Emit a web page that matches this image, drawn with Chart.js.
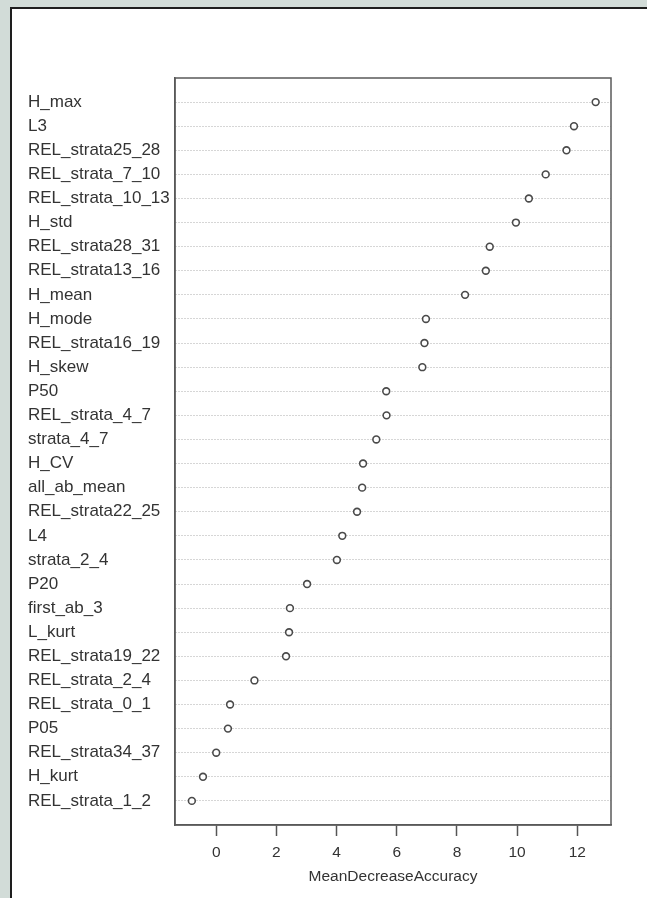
<!DOCTYPE html>
<html>
<head>
<meta charset="utf-8">
<script src="https://cdn.jsdelivr.net/npm/chart.js@4/dist/chart.umd.min.js"></script>
<style>
  html, body { margin: 0; padding: 0; background: #d2dcd8; }
  #wrap { position: absolute; left: 0; top: 0; width: 647px; height: 898px; }
</style>
</head>
<body>
<div id="wrap"><canvas id="c" width="647" height="898"></canvas></div>
<script>
// Variable importance, ordered from most to least important
const variables = [
  'H_max', 'L3', 'REL_strata25_28', 'REL_strata_7_10', 'REL_strata_10_13',
  'H_std', 'REL_strata28_31', 'REL_strata13_16', 'H_mean', 'H_mode',
  'REL_strata16_19', 'H_skew', 'P50', 'REL_strata_4_7', 'strata_4_7',
  'H_CV', 'all_ab_mean', 'REL_strata22_25', 'L4', 'strata_2_4',
  'P20', 'first_ab_3', 'L_kurt', 'REL_strata19_22', 'REL_strata_2_4',
  'REL_strata_0_1', 'P05', 'REL_strata34_37', 'H_kurt', 'REL_strata_1_2'
];
const meanDecreaseAccuracy = [
  12.61, 11.89, 11.64, 10.95, 10.39,
  9.96, 9.09, 8.96, 8.27, 6.97,
  6.92, 6.85, 5.65, 5.66, 5.32,
  4.88, 4.85, 4.68, 4.19, 4.01,
  3.02, 2.45, 2.42, 2.32, 1.27,
  0.46, 0.39, 0.00, -0.44, -0.81
];
const xTicks = [0, 2, 4, 6, 8, 10, 12];
const xTitle = 'MeanDecreaseAccuracy';

const FONT = 'Liberation Sans, Arial, sans-serif';
const TEXT = '#333333';

const points = variables.map((name, i) => ({ x: meanDecreaseAccuracy[i], y: i + 1 }));

// page panel: grey surround, white sheet with dark left/top edge
const panelPlugin = {
  id: 'panel',
  beforeDraw(chart) {
    const ctx = chart.ctx;
    ctx.save();
    ctx.fillStyle = '#d2dcd8';
    ctx.fillRect(0, 0, chart.width, chart.height);
    ctx.fillStyle = '#ffffff';
    ctx.fillRect(11, 8, chart.width - 11, chart.height - 8);
    ctx.strokeStyle = '#1e1e1e';
    ctx.lineWidth = 2;
    ctx.beginPath();
    ctx.moveTo(11, chart.height);
    ctx.lineTo(11, 8);
    ctx.lineTo(chart.width, 8);
    ctx.stroke();
    ctx.restore();
  }
};

// box around the plotting region
const framePlugin = {
  id: 'frame',
  afterDatasetsDraw(chart) {
    const { left, top, right, bottom } = chart.chartArea;
    const ctx = chart.ctx;
    ctx.save();
    ctx.strokeStyle = '#5a5a5a';
    ctx.lineWidth = 1.5;
    ctx.strokeRect(left, top, right - left, bottom - top);
    ctx.restore();
  }
};

new Chart(document.getElementById('c'), {
  type: 'scatter',
  data: {
    datasets: [{
      data: points,
      pointStyle: 'circle',
      pointRadius: 3.4,
      pointBorderWidth: 1.6,
      pointBorderColor: '#4a4a4a',
      pointBackgroundColor: '#ffffff',
      pointHoverRadius: 3.4
    }]
  },
  plugins: [panelPlugin, framePlugin],
  options: {
    responsive: false,
    animation: false,
    events: [],
    layout: { padding: { left: 28, top: 78, right: 36, bottom: 12 } },
    plugins: { legend: { display: false }, tooltip: { enabled: false } },
    scales: {
      x: {
        type: 'linear',
        min: -1.37,
        max: 13.12,
        afterBuildTicks(scale) { scale.ticks = xTicks.map(v => ({ value: v })); },
        afterFit(scale) { scale.height = 61; },
        grid: {
          drawOnChartArea: false,
          drawTicks: true,
          tickLength: 11,
          tickColor: '#555555',
          tickWidth: 1.5
        },
        border: { display: true, color: '#5a5a5a', width: 1.5 },
        ticks: {
          color: TEXT,
          font: { family: FONT, size: 15.5 },
          padding: 7,
          maxRotation: 0,
          autoSkip: false
        },
        title: {
          display: true,
          text: xTitle,
          color: TEXT,
          font: { family: FONT, size: 15.5 },
          padding: { top: 0, bottom: 0 }
        }
      },
      y: {
        type: 'linear',
        reverse: true,
        min: 0,
        max: variables.length + 1,
        afterBuildTicks(scale) { scale.ticks = variables.map((_, i) => ({ value: i + 1 })); },
        afterFit(scale) { scale.width = 147; },
        grid: {
          drawOnChartArea: true,
          drawTicks: false,
          tickLength: 0,
          color: '#adadad',
          lineWidth: 1
        },
        border: { display: true, color: '#5a5a5a', width: 1.5, dash: [1, 2] },
        ticks: {
          color: TEXT,
          font: { family: FONT, size: 17 },
          crossAlign: 'far',
          padding: 0,
          autoSkip: false,
          callback: (v) => variables[v - 1]
        }
      }
    }
  }
});
</script>
</body>
</html>
